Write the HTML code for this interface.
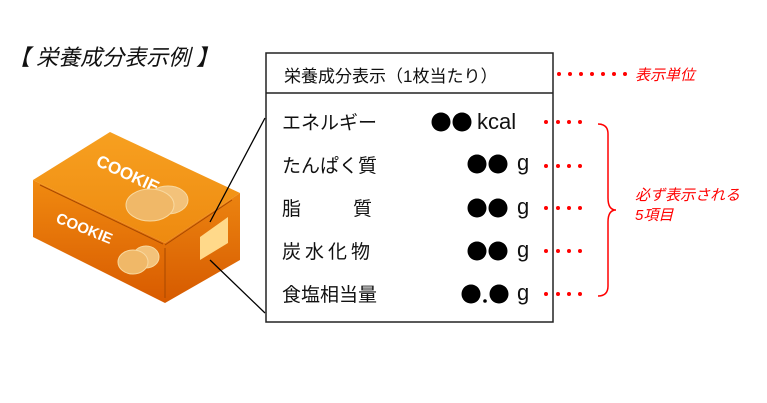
<!DOCTYPE html>
<html><head><meta charset="utf-8"><style>
body{margin:0;width:767px;height:403px;background:#fff;overflow:hidden;font-family:"Liberation Sans","Noto Sans CJK JP",sans-serif;}
.t{position:absolute;white-space:nowrap;color:#111;}
.r{color:#f00;font-style:italic;font-size:15px;}
.v{font-size:22px;}
</style></head><body>
<svg width="767" height="403" style="position:absolute;left:0;top:0">
<defs>
<linearGradient id="g1" x1="0" y1="0" x2="0" y2="1"><stop offset="0" stop-color="#f7a020"/><stop offset="1" stop-color="#ee8a10"/></linearGradient>
<linearGradient id="g2" x1="0" y1="0" x2="0" y2="1"><stop offset="0" stop-color="#f08a10"/><stop offset="1" stop-color="#d85a00"/></linearGradient>
<linearGradient id="g3" x1="0" y1="0" x2="0" y2="1"><stop offset="0" stop-color="#ec8410"/><stop offset="1" stop-color="#d65a00"/></linearGradient>
</defs>
<polygon points="33,180 110,132 240,193 165,243" fill="url(#g1)"/>
<polygon points="33,180 165,243 165,303 33,237" fill="url(#g2)"/>
<polygon points="165,243 240,193 240,260 165,303" fill="url(#g3)"/>
<line x1="40" y1="185" x2="163" y2="244" stroke="#a84800" stroke-width="1"/>
<line x1="165" y1="245" x2="232" y2="200" stroke="#a84800"/>
<line x1="165" y1="248" x2="165" y2="298" stroke="#a84800"/>
<text x="95" y="165" fill="#fff" font-size="17" font-weight="bold" transform="rotate(25 95 165)" font-family="Liberation Sans">COOKIE</text>
<text x="55" y="222" fill="#fff" font-size="15" font-weight="bold" transform="rotate(22 55 222)" font-family="Liberation Sans">COOKIE</text>
<ellipse cx="168" cy="200" rx="20" ry="14" fill="#f3c27a" stroke="#f8d9a0"/>
<ellipse cx="150" cy="205" rx="24" ry="16" fill="#f0b868" stroke="#f8d9a0"/>
<ellipse cx="146" cy="257" rx="13" ry="11" fill="#f3c27a" stroke="#f8d9a0"/>
<ellipse cx="133" cy="262" rx="15" ry="12" fill="#f0b868" stroke="#f8d9a0"/>
<polygon points="200,237 228,217 228,243 200,260" fill="#ffd98a"/>
<line x1="210" y1="222" x2="265" y2="118" stroke="#000" stroke-width="1.3"/>
<line x1="210" y1="260" x2="265" y2="313" stroke="#000" stroke-width="1.3"/>
<rect x="266" y="53" width="287" height="269" fill="none" stroke="#222" stroke-width="1.5"/>
<line x1="266" y1="93" x2="553" y2="93" stroke="#222" stroke-width="1.5"/>
<g fill="#000">
<circle cx="441" cy="122" r="9.5"/><circle cx="462" cy="122" r="9.5"/>
<circle cx="477" cy="164" r="9.5"/><circle cx="498" cy="164" r="9.5"/>
<circle cx="477" cy="208" r="9.5"/><circle cx="498" cy="208" r="9.5"/>
<circle cx="477" cy="251" r="9.5"/><circle cx="498" cy="251" r="9.5"/>
<circle cx="471" cy="294" r="9.5"/><circle cx="485" cy="301" r="1.8"/><circle cx="499" cy="294" r="9.5"/>
</g>
<g fill="#f00">
<circle cx="559" cy="74" r="2"/><circle cx="570" cy="74" r="2"/><circle cx="581" cy="74" r="2"/><circle cx="592" cy="74" r="2"/><circle cx="603" cy="74" r="2"/><circle cx="614" cy="74" r="2"/><circle cx="625" cy="74" r="2"/>
</g>
<g fill="#f00">
<circle cx="546" cy="122" r="2"/><circle cx="558" cy="122" r="2"/><circle cx="569" cy="122" r="2"/><circle cx="580" cy="122" r="2"/>
<circle cx="546" cy="166" r="2"/><circle cx="558" cy="166" r="2"/><circle cx="569" cy="166" r="2"/><circle cx="580" cy="166" r="2"/>
<circle cx="546" cy="208" r="2"/><circle cx="558" cy="208" r="2"/><circle cx="569" cy="208" r="2"/><circle cx="580" cy="208" r="2"/>
<circle cx="546" cy="251" r="2"/><circle cx="558" cy="251" r="2"/><circle cx="569" cy="251" r="2"/><circle cx="580" cy="251" r="2"/>
<circle cx="546" cy="294" r="2"/><circle cx="558" cy="294" r="2"/><circle cx="569" cy="294" r="2"/><circle cx="580" cy="294" r="2"/>
</g>
<path d="M598,124 Q608,124 608,134 L608,198 Q608,210 616,210 Q608,210 608,222 L608,286 Q608,296 598,296" fill="none" stroke="#f00" stroke-width="1.5"/>
</svg>
<div class="t" style="left:8px;top:40px;font-size:22px;font-style:italic;">【 栄養成分表示例 】</div>
<div class="t" style="left:284px;top:62px;font-size:17px;">栄養成分表示（1枚当たり）</div>
<div class="t r" style="left:635px;top:64px;">表示単位</div>
<div class="t r" style="left:635px;top:186px;line-height:20px;">必ず表示される<br>5項目</div>
<div class="t" style="left:282px;top:108px;font-size:19px;">エネルギー</div>
<div class="t" style="left:282px;top:151px;font-size:19px;">たんぱく質</div>
<div class="t" style="left:282px;top:194px;font-size:19px;">脂<span style="margin-left:52px">質</span></div>
<div class="t" style="left:282px;top:237px;font-size:19px;letter-spacing:4px;">炭水化物</div>
<div class="t" style="left:282px;top:280px;font-size:19px;">食塩相当量</div>
<div class="t v" style="left:477px;top:109px;">kcal</div>
<div class="t v" style="left:517px;top:150px;">g</div>
<div class="t v" style="left:517px;top:194px;">g</div>
<div class="t v" style="left:517px;top:237px;">g</div>
<div class="t v" style="left:517px;top:280px;">g</div>
</body></html>
